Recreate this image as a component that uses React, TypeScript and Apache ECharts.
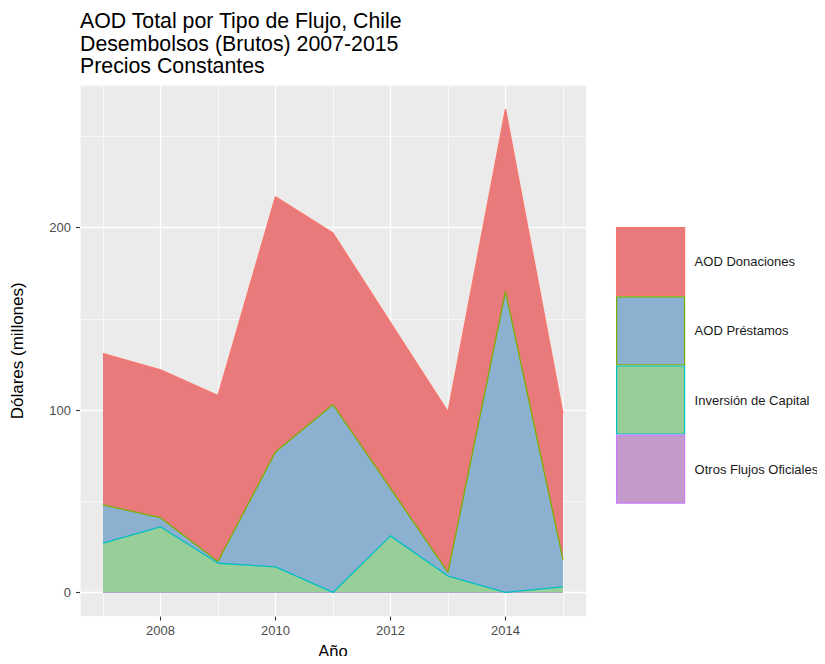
import React, { useEffect, useRef } from "react";
import * as echarts from "echarts";

const years = [2007, 2008, 2009, 2010, 2011, 2012, 2013, 2014, 2015];
const donaciones = [83, 81, 91, 140, 94, 91, 88, 100, 80];
const prestamos = [21, 5, 1, 63, 103, 26, 2, 165, 15];
const inversion = [27, 36, 16, 14, 0, 31, 9, 0, 3];
const otros = [0, 0, 0, 0, 0, 0, 0, 0, 0];

const xTicks = [2008, 2010, 2012, 2014];
const yTicks = [0, 100, 200];

const titleLines = [
  "AOD Total por Tipo de Flujo, Chile",
  "Desembolsos (Brutos) 2007-2015",
  "Precios Constantes",
];

const FONT = "Liberation Sans";

const seriesDefs = [
  { name: "Otros Flujos Oficiales", data: otros, fill: "#C49ACB", line: "#C77CFF", z: 2 },
  { name: "Inversión de Capital", data: inversion, fill: "#98CE97", line: "#00BFC4", z: 5 },
  { name: "AOD Préstamos", data: prestamos, fill: "#8CB0D0", line: "#7CAE00", z: 4 },
  { name: "AOD Donaciones", data: donaciones, fill: "#E87A7B", line: "#F8766D", z: 3 },
];

const legendOrder = ["AOD Donaciones", "AOD Préstamos", "Inversión de Capital", "Otros Flujos Oficiales"];

export default function App() {
  const ref = useRef<HTMLDivElement>(null);
  useEffect(() => {
    if (!ref.current) return;
    const chart = echarts.init(ref.current, undefined, { renderer: "svg" });
    const xMin = 2006.6, xMax = 2015.4;
    const yMin = -13.25, yMax = 278.25;
    const option: any = {
      animation: false,
      backgroundColor: "#ffffff",
      title: {
        text: titleLines.join("\n"),
        left: 80,
        top: 10,
        padding: 0,
        textStyle: { fontFamily: FONT, fontSize: 21.3, fontWeight: "normal", color: "#000000", lineHeight: 22.5 },
      },
      grid: { left: 80, top: 85, width: 506, height: 538, show: true, backgroundColor: "#EBEBEB", borderWidth: 0 },
      xAxis: [
        {
          type: "value",
          min: xMin,
          max: xMax,
          splitNumber: 4,
          name: "Año",
          nameLocation: "middle",
          nameGap: 24,
          nameTextStyle: { fontFamily: FONT, fontSize: 16.5, color: "#000000" },
          axisLine: { show: false, onZero: false },
          axisTick: { show: true, length: 4, customValues: xTicks, lineStyle: { color: "#333333", width: 1.1 } },
          axisLabel: {
            customValues: xTicks,
            margin: 7.5,
            fontFamily: FONT,
            fontSize: 13,
            color: "#4D4D4D",
            formatter: (v: number) => (xTicks.includes(v) ? String(v) : ""),
          },
          splitLine: { show: true, lineStyle: { color: "#FFFFFF", width: 1.3 } },
        },
        {
          type: "value",
          min: xMin,
          max: xMax,
          splitNumber: 8,
          axisLine: { show: false, onZero: false },
          axisTick: { show: false },
          axisLabel: { show: false },
          splitLine: { show: true, lineStyle: { color: "#FFFFFF", width: 0.6 } },
        },
      ],
      yAxis: [
        {
          type: "value",
          min: yMin,
          max: yMax,
          splitNumber: 3,
          name: "Dólares (millones)",
          nameLocation: "middle",
          nameGap: 54,
          nameTextStyle: { fontFamily: FONT, fontSize: 17, color: "#000000" },
          axisLine: { show: false, onZero: false },
          axisTick: { show: true, length: 4, customValues: yTicks, lineStyle: { color: "#333333", width: 1.1 } },
          axisLabel: {
            customValues: yTicks,
            margin: 9,
            fontFamily: FONT,
            fontSize: 13,
            color: "#4D4D4D",
            formatter: (v: number) => (yTicks.includes(v) ? String(v) : ""),
          },
          splitLine: { show: true, lineStyle: { color: "#FFFFFF", width: 1.3 } },
        },
        {
          type: "value",
          min: yMin,
          max: yMax,
          splitNumber: 6,
          axisLine: { show: false, onZero: false },
          axisTick: { show: false },
          axisLabel: { show: false },
          splitLine: { show: true, lineStyle: { color: "#FFFFFF", width: 0.6 } },
        },
      ],
      legend: {
        orient: "vertical",
        left: 616,
        top: 227,
        padding: 0,
        itemWidth: 68,
        itemHeight: 68,
        itemGap: 0,
        icon: "rect",
        selectedMode: false,
        data: legendOrder.map((n) => {
          const s = seriesDefs.find((d) => d.name === n)!;
          return { name: n, icon: "rect", itemStyle: { color: s.fill, borderColor: s.line, borderWidth: 1.2 } };
        }),
        textStyle: { fontFamily: FONT, fontSize: 13, color: "#1A1A1A", padding: [0, 0, 0, 5] },
      },
      series: seriesDefs.map((s) => ({
        name: s.name,
        type: "line",
        stack: "total",
        xAxisIndex: 0,
        yAxisIndex: 0,
        z: s.z,
        symbol: "none",
        color: s.line,
        // value first so that the stack is applied to the y dimension
        dimensions: [
          { name: "valor", type: "float" },
          { name: "anio", type: "float" },
        ],
        encode: { x: 1, y: 0 },
        data: years.map((y, i) => [s.data[i], y]),
        lineStyle: { color: s.line, width: 1.3 },
        areaStyle: { color: s.fill, opacity: 1 },
        emphasis: { disabled: true },
      })),
    };
    chart.setOption(option);
    return () => chart.dispose();
  }, []);
  return <div ref={ref} style={{ width: 825, height: 664, margin: -8 }} />;
}
